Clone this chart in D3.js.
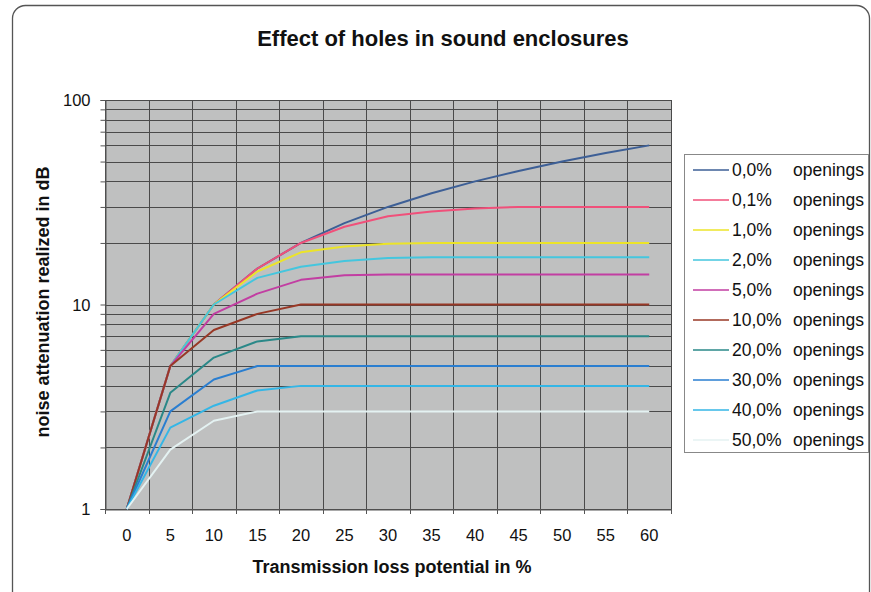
<!DOCTYPE html>
<html><head><meta charset="utf-8">
<script src="https://cdn.jsdelivr.net/npm/d3@7"></script>
<style>
body{margin:0;background:#fff;}
svg text{font-family:"Liberation Sans",Arial,sans-serif;fill:#111;}
</style></head>
<body><svg id="c" width="871" height="592"></svg>
<script>
const categories = [0,5,10,15,20,25,30,35,40,45,50,55,60];
const seriesNames = ["0,0%","0,1%","1,0%","2,0%","5,0%","10,0%","20,0%","30,0%","40,0%","50,0%"];
const seriesSuffix = "openings";
const s00 = [1,5,10,15,20,25,30,35,40,45,50,55,60];
const s01 = [1,5,10,15,20,24,27,28.5,29.5,30,30,30,30];
const s1  = [1,5,10,14.5,18,19.2,19.8,20,20,20,20,20,20];
const s2  = [1,5,10,13.5,15.3,16.3,16.9,17,17,17,17,17,17];
const s5  = [1,5,9,11.3,13.2,13.9,14,14,14,14,14,14,14];
const s10 = [1,5,7.5,9,10,10,10,10,10,10,10,10,10];
const s20 = [1,3.7,5.5,6.6,7,7,7,7,7,7,7,7,7];
const s30 = [1,3,4.3,5,5,5,5,5,5,5,5,5,5];
const s40 = [1,2.5,3.2,3.8,4,4,4,4,4,4,4,4,4];
const s50 = [1,1.95,2.7,3,3,3,3,3,3,3,3,3,3];
const seriesValues = [s00,s01,s1,s2,s5,s10,s20,s30,s40,s50];
const seriesColors = ["#3d5f96","#f0507a","#ece428","#44c6de","#c23ea2","#983826","#2a8888","#2a7ed0","#34b6e6","#e4f2f2"];
const yTickLabels = [1,10,100];
const title = "Effect of holes in sound enclosures";
const xTitle = "Transmission loss potential in %";
const yTitle = "noise attenuation realized in dB";

const svg = d3.select("#c");
const L=105, R=671, T=100, B=509;

// outer frame
svg.append("rect").attr("x",12.5).attr("y",5.5).attr("width",857).attr("height",600)
  .attr("rx",13).attr("fill","none").attr("stroke","#555").attr("stroke-width",1.3);

const x = d3.scaleBand().domain(categories).range([L,R]).paddingInner(0).paddingOuter(0);
const y = d3.scaleLog().domain([1,100]).range([B,T]);

// plot background
svg.append("rect").attr("x",L).attr("y",T).attr("width",R-L).attr("height",B-T).attr("fill","#bfc0c0");

// horizontal grid
const gTicks = y.ticks();
svg.append("g").selectAll("line").data(gTicks).join("line")
  .attr("x1",L).attr("x2",R).attr("y1",d=>Math.round(y(d))+0.5).attr("y2",d=>Math.round(y(d))+0.5)
  .attr("stroke","#4a4a4a").attr("stroke-width",1);
// vertical grid at category boundaries
const bounds = categories.map(c=>x(c)).concat([R]);
svg.append("g").selectAll("line").data(bounds).join("line")
  .attr("x1",d=>Math.round(d)+0.5).attr("x2",d=>Math.round(d)+0.5).attr("y1",T).attr("y2",B)
  .attr("stroke","#4a4a4a").attr("stroke-width",1);

// y axis
const yAxis = d3.axisLeft(y).tickValues(gTicks).tickSize(5)
  .tickFormat(d=>yTickLabels.includes(d)?String(d):"");
const ya = svg.append("g").attr("transform",`translate(${L+0.5},0)`).call(yAxis);
ya.select(".domain").attr("stroke","#555");
ya.selectAll(".tick line").attr("stroke","#555");
ya.selectAll("text").attr("font-size",16.5).attr("x",-15).attr("dy","0.35em")
  .style("font-family","Liberation Sans, Arial, sans-serif").attr("fill","#111");

// x axis
const xa = svg.append("g").attr("transform",`translate(0,${B+0.5})`).call(d3.axisBottom(x).tickSize(0));
xa.select(".domain").attr("stroke","#555");
xa.selectAll("text").attr("font-size",16.5).attr("y",20)
  .style("font-family","Liberation Sans, Arial, sans-serif").attr("fill","#111");
svg.append("g").selectAll("line").data(bounds).join("line")
  .attr("x1",d=>Math.round(d)+0.5).attr("x2",d=>Math.round(d)+0.5).attr("y1",B).attr("y2",B+5)
  .attr("stroke","#555");

// lines
const line = d3.line().x((d,i)=>x(categories[i])+x.bandwidth()/2).y(d=>y(d));
seriesValues.forEach((vals,k)=>{
  svg.append("path").datum(vals).attr("d",line).attr("fill","none")
    .attr("stroke",seriesColors[k]).attr("stroke-width",2).attr("stroke-linejoin","round");
});

// titles
svg.append("text").attr("x",443).attr("y",46).attr("text-anchor","middle")
  .attr("font-size",22).attr("font-weight","bold").text(title);
svg.append("text").attr("x",392).attr("y",573).attr("text-anchor","middle")
  .attr("font-size",18).attr("font-weight","bold").text(xTitle);
svg.append("text").attr("transform","translate(49,302) rotate(-90)").attr("text-anchor","middle")
  .attr("font-size",18).attr("font-weight","bold").text(yTitle);

// legend
svg.append("rect").attr("x",684.5).attr("y",154.5).attr("width",184).attr("height",298)
  .attr("fill","#fff").attr("stroke","#888").attr("stroke-width",1);
const lg = svg.append("g");
seriesNames.forEach((n,k)=>{
  const cy = 170 + k*30;
  lg.append("line").attr("x1",693).attr("x2",729).attr("y1",cy).attr("y2",cy)
    .attr("stroke",seriesColors[k]).attr("stroke-width",1.5);
  const t = lg.append("text").attr("x",732).attr("y",cy).attr("dy","0.36em").attr("font-size",17.5).text(n);
  const w = t.node().getComputedTextLength();
  lg.append("text").attr("x",Math.max(793,732+w+5)).attr("y",cy).attr("dy","0.36em")
    .attr("font-size",17.5).text(seriesSuffix);
});
</script></body></html>
